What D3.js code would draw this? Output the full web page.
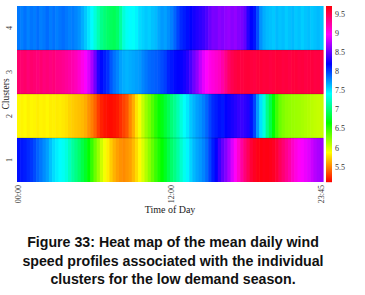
<!DOCTYPE html>
<html>
<head>
<meta charset="utf-8">
<script src="https://cdn.jsdelivr.net/npm/d3@7"></script>
<style>
  body { margin: 0; background: #fff; }
  svg text { font-family: "Liberation Serif", "DejaVu Serif", serif; }
</style>
</head>
<body>
<svg id="chart" width="365" height="295"></svg>
<script>
// clusters, bottom to top
var clusters = ["1", "2", "3", "4"];
// 15 minute slots, 00:00 .. 23:45
var slots = d3.range(96).map(function(i) {
    return d3.format("02")(Math.floor(i / 4)) + ":" + d3.format("02")((i % 4) * 15);
});
var xTicks = ["00:00", "12:00", "23:45"];
var cbTicks = [5.5, 6, 6.5, 7, 7.5, 8, 8.5, 9, 9.5];
var valueRange = [5.1, 9.7];

// mean wind speed per slot (m/s)
var cluster1 = [8.14,8.12,8.10,8.06,8.02,7.96, 7.88,7.82,7.76,7.70, 7.60,7.52,7.46,7.42,7.38,7.32,
    7.22,7.12,7.04,6.96, 6.86,6.76,6.64, 6.48,6.32,6.18, 6.02,5.90,5.82, 5.72,5.64,5.58,5.54,5.52,5.55,5.58,
    5.66,5.76,5.86, 5.98,6.10,6.22,6.34, 6.46,6.56,6.64,6.74, 6.86,6.96,7.04,7.14, 7.26,7.36,7.44,
    7.54,7.62,7.68,7.72,7.78,7.86, 7.98,8.10,8.20, 8.36,8.48,8.58,8.70, 8.84,8.98,9.10, 9.24,9.36,9.46,
    9.56,9.62,9.66,9.68,9.66,9.67,9.65,9.62,9.56, 9.46,9.38,9.30,9.22, 9.12,9.04,8.98,8.94,8.90,8.86,
    8.80,8.74,8.70,8.66];
var cluster2 = [5.85,5.84,5.86,5.83,5.85,5.84,5.82,5.84,5.83,5.85,5.82,5.83,5.81,5.82,5.80,5.78,
    5.74,5.72,5.70,5.68,5.66,5.62, 5.54,5.48,5.40, 5.28,5.20,5.16,5.14,5.13,5.15,5.18, 5.24,5.30,5.36,
    5.50,5.62, 5.78,5.90, 6.05,6.18,6.28,6.40, 6.52,6.62,6.70,6.80, 6.90,7.00,7.08,7.18, 7.30,7.40,7.48,
    7.58,7.64,7.70,7.74,7.80,7.88, 7.98,8.06,8.10,8.14,8.12,8.18,8.22,8.26, 8.30,8.34,8.36,8.32,8.28,
    8.14,7.98, 7.72,7.50,7.32, 7.05,6.85,6.65,
    6.45,6.32,6.26,6.22,6.20,6.18,6.17,6.16,6.14,6.12,6.10,6.08,6.06,6.05,6.04];
var cluster3 = [9.40,9.39,9.41,9.37,9.40,9.38,9.36,9.39,9.35,9.37,9.34,9.36,9.32,9.31,9.29,9.26,9.23,9.20,9.16,9.10,
    9.02,8.94,8.84, 8.70,8.52, 8.30,8.16,8.10,8.04, 7.92,7.84,7.78, 7.70,7.66,7.64,7.66,7.68,7.70,7.72,
    7.78,7.82,7.86,7.88,7.90,7.92,7.96,8.00, 8.08,8.12,8.16,8.18,8.20,8.24,8.30, 8.40,8.52,8.62,8.76,
    8.88,8.96,9.02,9.06,9.10,9.14,9.22,9.32,
    9.42,9.48,9.52,9.54,9.53,9.55,9.56,9.54,9.53,9.55,9.56,9.54,9.55,9.53,9.54,9.56,9.55,9.53,9.54,9.52,
    9.54,9.55,9.53,9.54,9.52,9.53,9.54,9.52,9.53,9.51];
var cluster4 = [7.82,7.80,7.84,7.79,7.83,7.81,7.85,7.80,7.82,7.86,7.81,7.84,7.80,7.83,7.85,7.82,7.79,7.81,7.78,7.74,
    7.66,7.58,7.49,7.42,7.30,7.18, 7.06,7.00,6.95,6.92,6.90,6.96, 7.12,7.30,7.38,7.42,7.40,7.45,
    7.52,7.55,7.58,7.56,7.60,7.62, 7.68,7.72,7.70,7.75,7.80,7.88, 7.98,8.06,8.10,8.14,8.18,
    8.24,8.28,8.32,8.36,8.42, 8.50,8.56,8.55,8.60,8.58,8.62,8.64,8.60,8.63,8.58,8.55,8.48,
    8.30,8.18,8.12,7.95,
    7.74,7.66,7.62,7.60,7.58,7.62,7.59,7.61,7.57,7.60,7.62,7.58,7.60,7.56,7.59,7.61,7.58,7.60,7.62,7.59];

var series = [cluster1, cluster2, cluster3, cluster4];
var cells = [];
series.forEach(function(vals, ci) {
    vals.forEach(function(v, ti) { cells.push({c: clusters[ci], t: slots[ti], v: v}); });
});

var margin = {top: 6, left: 17},
    width = 306, height = 176;

var svg = d3.select("#chart");
var g = svg.append("g")
    .attr("transform", "translate(" + margin.left + "," + margin.top + ")");

var x = d3.scaleBand().domain(slots).range([0, width]);
var y = d3.scaleBand().domain(clusters.slice().reverse()).range([0, height]);

// hsv colour map (red -> yellow -> green -> cyan -> blue -> magenta -> red)
var hue = d3.scaleLinear().domain(valueRange).range([0, 358]).clamp(true);
var color = function(v) { return d3.hsl(hue(v), 1, 0.5) + ""; };

g.append("g")
  .selectAll("rect")
  .data(cells)
  .enter()
  .append("rect")
    .attr("x", function(d) { return x(d.t); })
    .attr("y", function(d) { return y(d.c); })
    .attr("width", x.bandwidth() + 0.6)
    .attr("height", y.bandwidth())
    .attr("fill", function(d) { return color(d.v); });

// faint row separators
g.append("g")
  .selectAll("line")
  .data(clusters.slice(1))
  .enter()
  .append("line")
    .attr("x1", 0).attr("x2", width)
    .attr("y1", function(d) { return y(d) + y.bandwidth(); })
    .attr("y2", function(d) { return y(d) + y.bandwidth(); })
    .attr("stroke", "rgba(0,0,0,0.25)")
    .attr("stroke-width", 0.7);

// y axis
var yAxis = g.append("g")
    .call(d3.axisLeft(y).tickSize(0).tickPadding(0));
yAxis.select(".domain").remove();
yAxis.selectAll("text")
    .attr("transform", "translate(-5,0) rotate(-90)")
    .attr("x", 0).attr("dy", 0).attr("y", 0)
    .attr("text-anchor", "middle")
    .attr("font-size", 8).attr("fill", "#333");

// x axis
var xAxis = g.append("g")
    .attr("transform", "translate(0," + height + ")")
    .call(d3.axisBottom(x).tickValues(xTicks).tickSize(0));
xAxis.select(".domain").remove();
xAxis.selectAll("text")
    .attr("transform", "rotate(-90)")
    .attr("x", -3).attr("y", 0).attr("dy", "0.32em")
    .attr("text-anchor", "end")
    .attr("font-size", 8).attr("fill", "#333");

svg.append("text")
    .attr("x", margin.left + width / 2)
    .attr("y", 213)
    .attr("text-anchor", "middle")
    .attr("font-size", 10).attr("fill", "#222")
    .text("Time of Day");

svg.append("text")
    .attr("transform", "translate(8.5,94) rotate(-90)")
    .attr("text-anchor", "middle")
    .attr("font-size", 9.5).attr("fill", "#222")
    .text("Clusters");

// colour bar
var cb = d3.scaleLinear().domain(valueRange).range([182, 6]);
var cbSteps = d3.range(0, 176);
svg.append("g")
  .selectAll("rect")
  .data(cbSteps)
  .enter()
  .append("rect")
    .attr("x", 326)
    .attr("y", function(d) { return 6 + d; })
    .attr("width", 6)
    .attr("height", 1.2)
    .attr("fill", function(d) { return color(cb.invert(6 + d + 0.5)); });

var cbAxis = svg.append("g")
    .attr("transform", "translate(332,0)")
    .call(d3.axisRight(cb).tickValues(cbTicks).tickSize(0).tickPadding(3)
        .tickFormat(d3.format("")));
cbAxis.select(".domain").remove();
cbAxis.selectAll("text").attr("font-size", 8).attr("fill", "#333");

// caption
var caption = ["Figure 33: Heat map of the mean daily wind",
               "speed profiles associated with the individual",
               "clusters for the low demand season."];
svg.append("g")
  .selectAll("text")
  .data(caption)
  .enter()
  .append("text")
    .attr("x", 173)
    .attr("y", function(d, i) { return 247 + i * 18.5; })
    .attr("text-anchor", "middle")
    .style("font-family", "'Liberation Sans', Arial, sans-serif")
    .attr("font-weight", "bold")
    .attr("font-size", 14.2)
    .attr("fill", "#111")
    .text(function(d) { return d; });
</script>
</body>
</html>
